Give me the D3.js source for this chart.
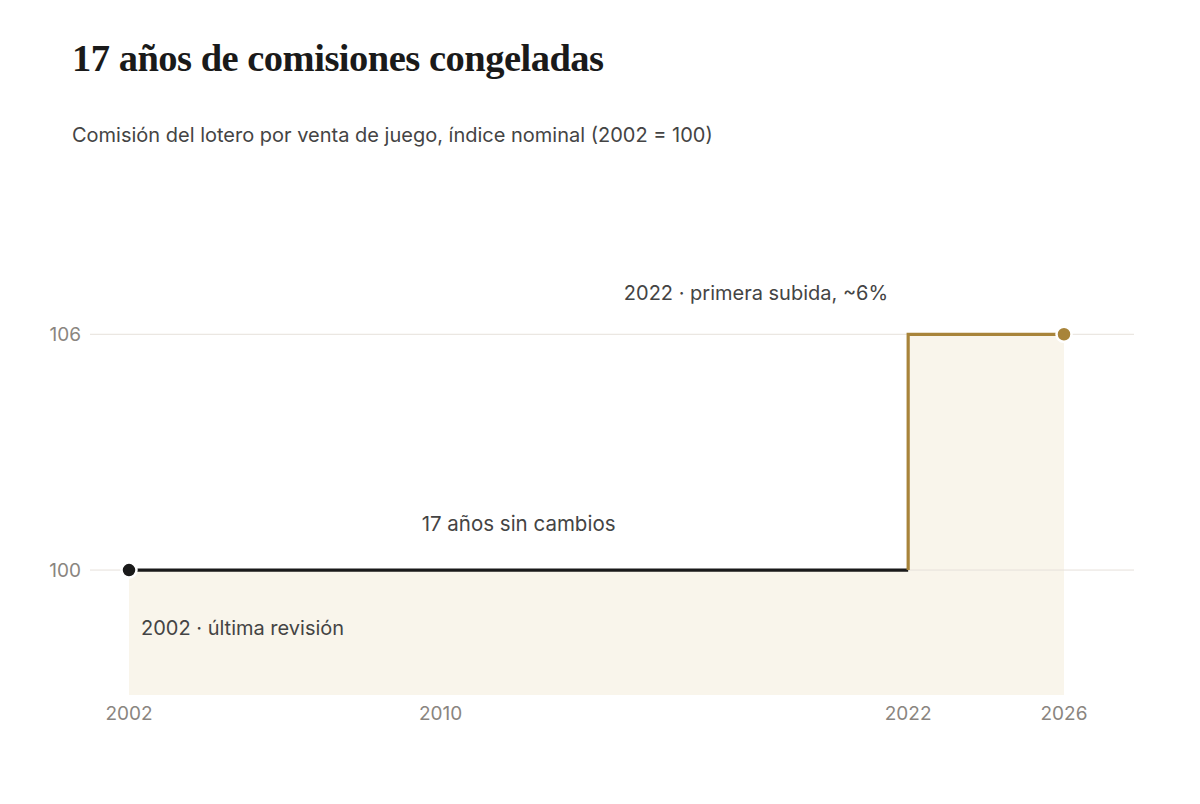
<!DOCTYPE html>
<html>
<head>
<meta charset="utf-8">
<script src="https://cdn.jsdelivr.net/npm/d3@7"></script>
<style>
  body { margin: 0; background: #fff; }
  svg { display: block; }
</style>
</head>
<body>
<div id="chart"></div>
<script>
// datos: índice nominal de la comisión (2002 = 100)
const years = [2002, 2022, 2026];
const indexValues = [100, 106, 106];
const xTicks = [2002, 2010, 2022, 2026];
const yTicks = [100, 106];
const notes = [
  { year: 2012, value: 100, text: "17 años sin cambios" },
  { year: 2022, value: 106, text: "2022 · primera subida, ~6%" },
  { year: 2002, value: 100, text: "2002 · última revisión" }
];

const W = 1200, H = 804;
const margin = { top: 295, right: 66, bottom: 109, left: 90 };
const sans = "Inter, 'Noto Sans', sans-serif";

const svg = d3.select("#chart").append("svg")
  .attr("width", W).attr("height", H);

// Cabecera
svg.append("text")
  .attr("x", 72).attr("y", 71)
  .style("font-family", "'Liberation Serif', 'DejaVu Serif', serif")
  .style("font-weight", "bold")
  .style("font-size", "38.5px")
  .style("letter-spacing", "-0.5px")
  .attr("fill", "#1a1a1a")
  .text("17 años de comisiones congeladas");

svg.append("text")
  .attr("x", 72).attr("y", 142)
  .style("font-family", sans)
  .style("font-size", "20px")
  .attr("fill", "#444")
  .text("Comisión del lotero por venta de juego, índice nominal (2002 = 100)");

// Escalas
const x = d3.scaleLinear().domain([2002, 2026]).range([129, 1064]);
const y = d3.scaleLinear().domain([96.82, 107]).range([H - margin.bottom, margin.top]);

const data = years.map((yr, i) => ({ year: yr, value: indexValues[i] }));

// Área sombreada bajo la curva escalonada
const area = d3.area()
  .curve(d3.curveStepAfter)
  .x(d => x(d.year))
  .y0(y(y.domain()[0]))
  .y1(d => y(d.value));

svg.append("path")
  .datum(data)
  .attr("d", area)
  .attr("fill", "#f9f5eb");

// Rejilla
svg.append("g")
  .selectAll("line")
  .data(yTicks)
  .join("line")
  .attr("x1", margin.left).attr("x2", W - margin.right)
  .attr("y1", d => y(d)).attr("y2", d => y(d))
  .attr("stroke", "#e6e1da")
  .attr("stroke-width", 1);

svg.append("g")
  .selectAll("text")
  .data(yTicks)
  .join("text")
  .attr("x", 81).attr("y", d => y(d))
  .attr("dy", "0.35em")
  .attr("text-anchor", "end")
  .style("font-family", sans)
  .style("font-size", "19px")
  .attr("fill", "#8a8580")
  .text(d => d);

svg.append("g")
  .selectAll("text")
  .data(xTicks)
  .join("text")
  .attr("x", d => x(d)).attr("y", 720)
  .attr("text-anchor", "middle")
  .style("font-family", sans)
  .style("font-size", "19px")
  .attr("fill", "#8a8580")
  .text(d => d);

// Tramo congelado (negro) y subida (dorado)
const line = d3.line()
  .curve(d3.curveStepAfter)
  .x(d => x(d.year))
  .y(d => y(d.value));

svg.append("path")
  .datum(data.slice(0, 2).map((d, i) => i === 1 ? { year: d.year, value: data[0].value } : d))
  .attr("d", line)
  .attr("fill", "none")
  .attr("stroke", "#1a1a1a")
  .attr("stroke-width", 3.2);

svg.append("path")
  .datum([{ year: data[1].year, value: data[0].value }].concat(data.slice(1)))
  .attr("d", d3.line().x(d => x(d.year)).y(d => y(d.value)))
  .attr("fill", "none")
  .attr("stroke", "#a8843a")
  .attr("stroke-width", 3.2);

// Puntos extremos
const ends = [
  { d: data[0], color: "#1a1a1a" },
  { d: data[data.length - 1], color: "#a8843a" }
];
svg.append("g")
  .selectAll("circle")
  .data(ends)
  .join("circle")
  .attr("cx", e => x(e.d.year))
  .attr("cy", e => y(e.d.value))
  .attr("r", 7.5)
  .attr("fill", e => e.color)
  .attr("stroke", "#fff")
  .attr("stroke-width", 2.5);

// Anotaciones
const ann = svg.append("g")
  .style("font-family", sans)
  .style("font-size", "20px")
  .attr("fill", "#444");

ann.append("text")
  .attr("x", x(notes[0].year)).attr("y", y(notes[0].value) - 39)
  .attr("text-anchor", "middle")
  .style("font-size", "20.5px")
  .text(notes[0].text);

ann.append("text")
  .attr("x", x(notes[1].year) - 20).attr("y", y(notes[1].value) - 34)
  .attr("text-anchor", "end")
  .text(notes[1].text);

ann.append("text")
  .attr("x", x(notes[2].year) + 12).attr("y", y(notes[2].value) + 65)
  .attr("text-anchor", "start")
  .text(notes[2].text);
</script>
</body>
</html>
